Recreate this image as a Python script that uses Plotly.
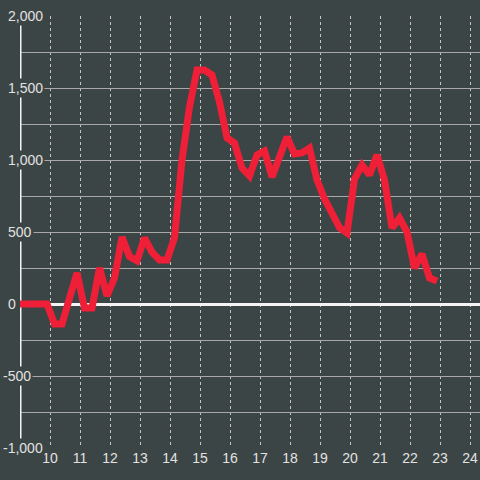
import plotly.graph_objects as go

hours = [8.9, 9.15, 9.4, 9.65, 9.9, 10.15, 10.4, 10.65, 10.9, 11.15, 11.4, 11.65, 11.9,
         12.15, 12.4, 12.65, 12.9, 13.15, 13.4, 13.65, 13.9, 14.15, 14.4, 14.65, 14.9,
         15.15, 15.4, 15.65, 15.9, 16.15, 16.4, 16.65, 16.9, 17.15, 17.4, 17.65, 17.9,
         18.15, 18.4, 18.65, 18.9, 19.15, 19.4, 19.65, 19.9, 20.15, 20.4, 20.65, 20.9,
         21.15, 21.4, 21.65, 21.9, 22.15, 22.4, 22.65, 22.9]
values = [0, 0, 0, 0, 0, -139, -139, 40, 215, -28, -28, 250, 56,
          180, 465, 330, 300, 460, 360, 306, 306, 460, 1000, 1368, 1625,
          1625, 1590, 1403, 1153, 1118, 944, 889, 1035, 1062, 882, 1021, 1160,
          1042, 1049, 1083, 861, 730, 632, 530, 493, 868, 965, 896, 1035,
          861, 528, 597, 500, 250, 347, 180, 160]

x_ticks = list(range(10, 25))
y_label_values = [2000, 1500, 1000, 500, 0, -500, -1000]
y_label_texts = ["2,000", "1,500", "1,000", "500", "0", "-500", "-1,000"]

BG = "#3c4545"
TXT = "#e2e2e2"
FONT = "Liberation Sans"

fig = go.Figure()
fig.add_trace(go.Scatter(x=hours, y=values, mode="lines",
                         line=dict(color="#ee1f36", width=7),
                         hoverinfo="skip", showlegend=False))

fig.update_layout(
    width=480, height=480,
    margin=dict(l=20, r=0, t=16, b=32),
    paper_bgcolor=BG, plot_bgcolor=BG,
    font=dict(family=FONT, size=14, color=TXT),
    xaxis=dict(range=[9, 9 + 460 / 30], tickmode="array", tickvals=x_ticks,
               ticktext=[str(t) for t in x_ticks],
               showgrid=True, gridcolor="#c4c4c4", gridwidth=1, griddash="3px,3px",
               zeroline=False, showline=False, ticks="", automargin=False,
               tickfont=dict(family=FONT, size=14, color=TXT)),
    yaxis=dict(range=[-1000, 2000], dtick=250, tick0=0,
               showgrid=True, gridcolor="#a9a9a9", gridwidth=1,
               zeroline=True, zerolinecolor="#f4f4f4", zerolinewidth=3,
               showticklabels=False, ticks="", showline=False, automargin=False),
)

# hide the start of the bottom gridline (as in the reference)
fig.add_shape(type="rect", xref="x", yref="y", x0=8.95, x1=9.97, y0=-1010, y1=-990,
              line=dict(width=0), fillcolor=BG, layer="between")
fig.add_shape(type="line", xref="x", yref="y", x0=9, x1=9, y0=-1000, y1=2000,
              line=dict(color="#f4f4f4", width=3), layer="between")

for v, t in zip(y_label_values, y_label_texts):
    px = 1 if v < 0 else 6
    fig.add_annotation(x=(px - 20) / 460, xref="paper", y=v, yref="y",
                       text=t, showarrow=False, xanchor="left", yanchor="middle",
                       bgcolor=BG, borderpad=1,
                       font=dict(family=FONT, size=14, color=TXT))

fig.write_html("out.html", config={"displayModeBar": False},
               post_script="document.body.style.margin='0';document.body.style.background='#3c4545';")
